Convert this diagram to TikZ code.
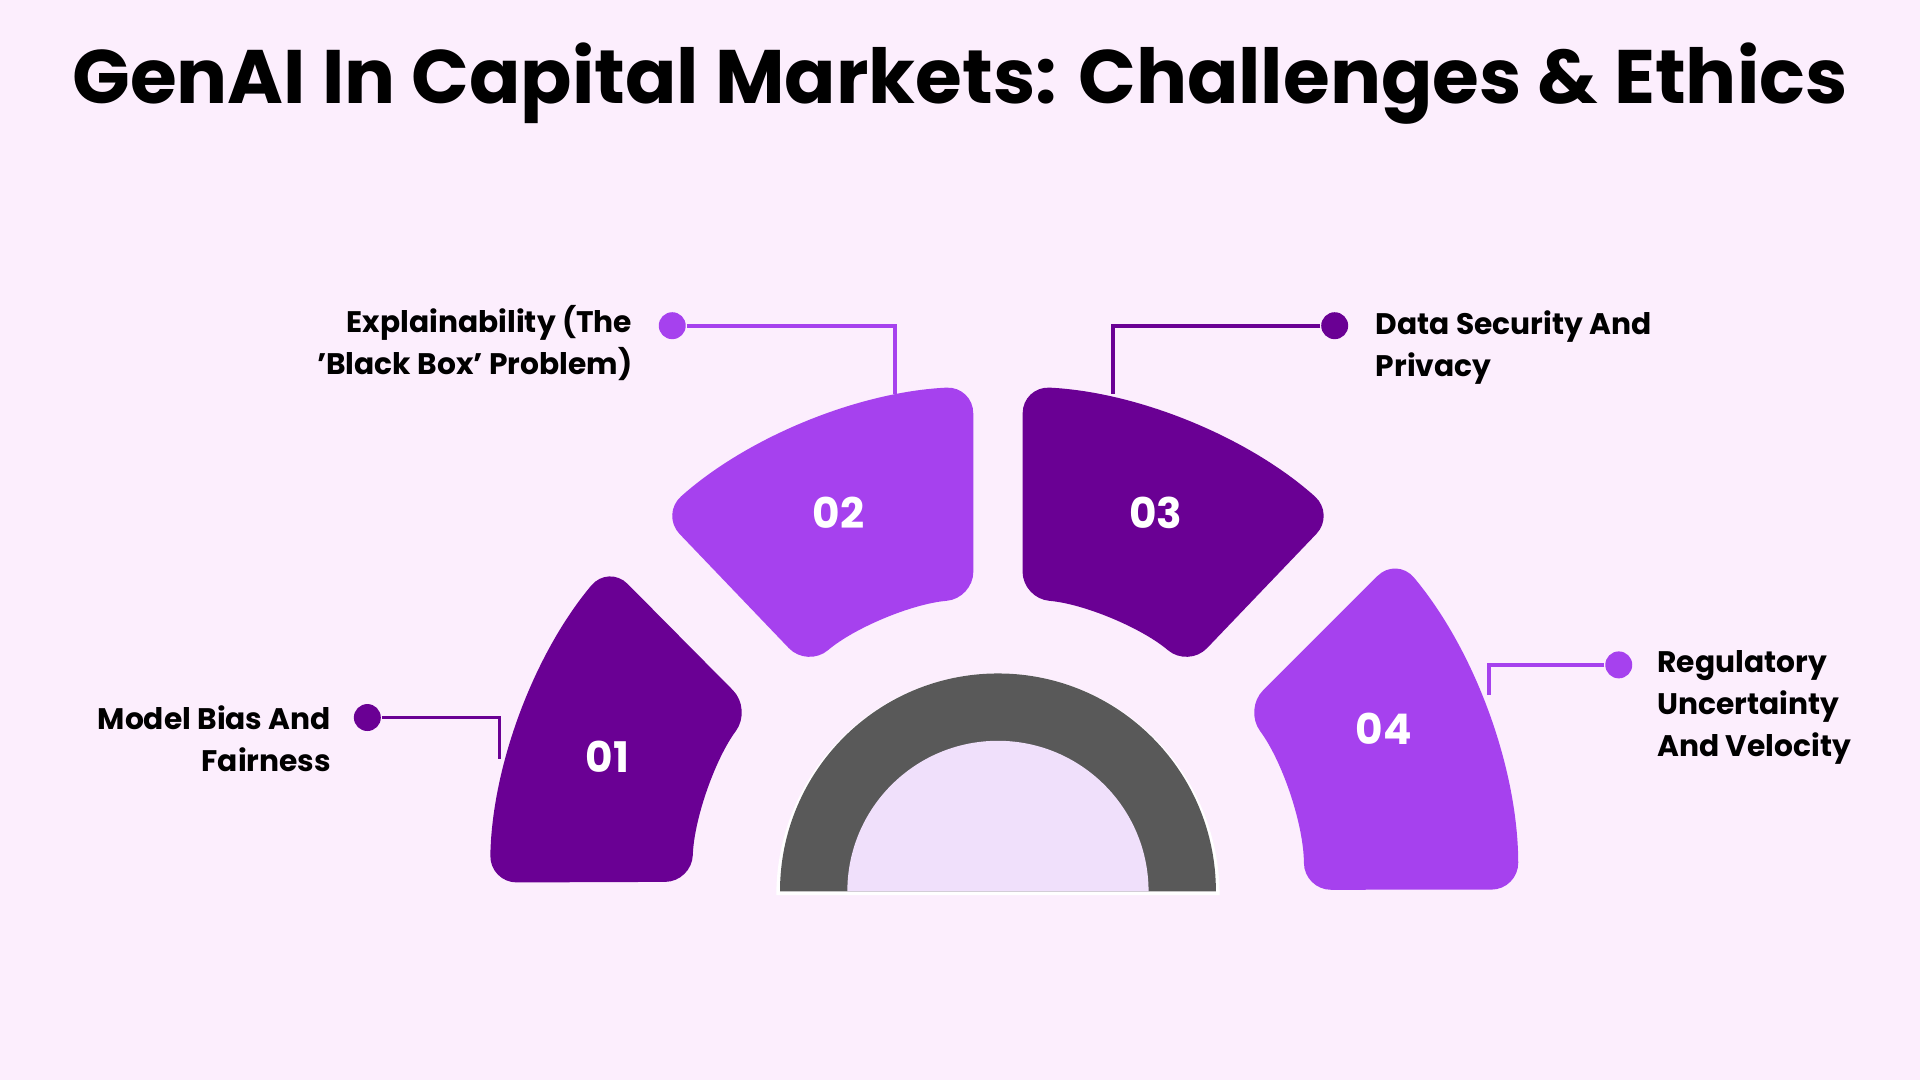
\documentclass[tikz,border=0pt]{standalone}
\usepackage{fontspec}
\setmainfont{Poppins}
\definecolor{bgpink}{HTML}{FCEEFD}
\definecolor{darkpurple}{HTML}{6A0094}
\definecolor{lightpurple}{HTML}{A641EE}
\definecolor{ringgray}{HTML}{595959}
\definecolor{innerlav}{HTML}{F0E0FB}
\tikzset{
  seg/.style={rounded corners=0.22cm},
  dot/.style={circle,inner sep=0pt,minimum size=0.22cm},
  lead/.style={line width=0.03cm},
  label/.style={font=\fontsize{6.9}{9.8}\selectfont\bfseries,inner sep=0pt},
  num/.style={font=\fontsize{9.8}{11}\selectfont\bfseries,text=white}
}
\begin{document}
\begin{tikzpicture}[x=0.01cm,y=0.01cm]
	\fill[bgpink](0,0)rectangle(1568,882);
	\useasboundingbox(0,0)rectangle(1568,882);
	\coordinate (C) at (815,154);
	% title
	\node[font=\fontsize{17.6}{20}\selectfont\bfseries](title) at (784,814){GenAI In Capital Markets: Challenges \& Ethics};
	% segments
	\fill[darkpurple,seg]([shift={(C)}]179:415) arc[start angle=179,end angle=140,radius=415] -- ([shift={(C)}]143.5:250) arc[start angle=143.5,end angle=178.2,radius=250] -- cycle;
	\fill[lightpurple,seg]([shift={(C)}]131.8:413) arc[start angle=131.8,end angle=92.8,radius=413] -- ([shift={(C)}]94.8:240) arc[start angle=94.8,end angle=130.4,radius=240] -- cycle;
	\fill[darkpurple,seg]([shift={(C)}]87.2:413) arc[start angle=87.2,end angle=48.2,radius=413] -- ([shift={(C)}]49.6:240) arc[start angle=49.6,end angle=85.2,radius=240] -- cycle;
	\fill[lightpurple,seg]([shift={(C)}]40:425) arc[start angle=40,end angle=0.2,radius=425] -- ([shift={(C)}]0.3:250) arc[start angle=0.3,end angle=36.5,radius=250] -- cycle;
	% gauge
	\fill[white](634,151) arc[start angle=180,end angle=0,radius=181] -- cycle;
	\fill[ringgray](637,154) arc[start angle=180,end angle=0,radius=178] -- cycle;
	\fill[innerlav](692,154) arc[start angle=180,end angle=0,radius=123] -- cycle;
	% numbers
	\node[num](n1) at (496,264){01};
	\node[num](n2) at (685,463){02};
	\node[num](n3) at (944,463){03};
	\node[num](n4) at (1130,287){04};
	% leads
	\node[dot,fill=darkpurple](d1) at (300,296){};
	\node[dot,fill=lightpurple](d2) at (549,616){};
	\node[dot,fill=darkpurple](d3) at (1090,616){};
	\node[dot,fill=lightpurple](d4) at (1322,339){};
	\coordinate (e1) at (408,262);
	\coordinate (e2) at (731,560);
	\coordinate (e3) at (909,560);
	\coordinate (e4) at (1216,314);
	\draw[lead,darkpurple](d1) -| (e1);
	\draw[lead,lightpurple](d2) -| (e2);
	\draw[lead,darkpurple](d3) -| (e3);
	\draw[lead,lightpurple](d4) -| (e4);
	% labels
	\node[label,anchor=east,align=right](l1) at (271,279){Model Bias And\\Fairness};
	\node[label,anchor=east,align=right](l2) at (517,602){Explainability (The\\'Black Box' Problem)};
	\node[label,anchor=west,align=left](l3) at (1123,598){Data Security And\\Privacy};
	\node[label,anchor=west,align=left](l4) at (1353,304){Regulatory\\Uncertainty\\And Velocity};
\end{tikzpicture}
\end{document}
